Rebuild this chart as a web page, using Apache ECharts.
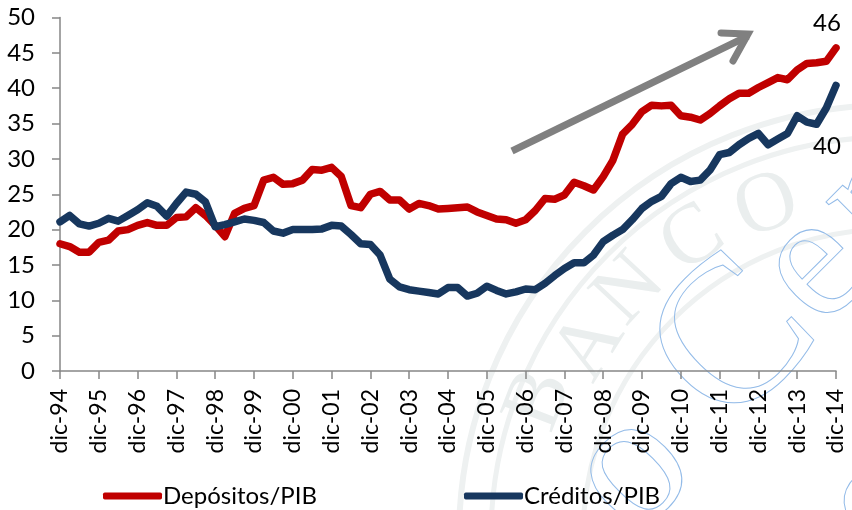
<!DOCTYPE html>
<html><head><meta charset="utf-8">
<style>html,body{margin:0;padding:0;background:#fff}#c{width:852px;height:510px}</style>
<script src="https://cdn.jsdelivr.net/npm/echarts@6/dist/echarts.min.js"></script>
</head><body><div id="c"></div>
<script>
const years = ['94','95','96','97','98','99','00','01','02','03','04','05','06','07','08','09','10','11','12','13','14'];
const depositos = [18.0,17.6,16.8,16.8,18.2,18.5,19.8,20.0,20.6,21.0,20.6,20.6,21.7,21.8,23.1,22.0,20.6,19.0,22.3,23.0,23.4,27.0,27.4,26.4,26.5,27.0,28.5,28.4,28.8,27.5,23.4,23.1,25.0,25.4,24.2,24.2,22.9,23.7,23.4,22.9,23.0,23.1,23.2,22.5,22.0,21.5,21.4,20.9,21.4,22.7,24.4,24.3,24.9,26.7,26.2,25.6,27.5,29.8,33.5,34.9,36.7,37.6,37.5,37.6,36.1,35.9,35.5,36.4,37.5,38.5,39.3,39.3,40.1,40.8,41.5,41.2,42.6,43.5,43.6,43.8,45.7];
const creditos = [21.1,22.0,20.8,20.5,20.9,21.6,21.2,22.0,22.8,23.8,23.3,21.9,23.7,25.3,25.0,23.9,20.4,20.7,21.1,21.5,21.3,21.0,19.8,19.5,20.0,20.0,20.0,20.1,20.6,20.5,19.3,18.0,17.9,16.4,13.0,11.9,11.5,11.3,11.1,10.9,11.8,11.8,10.6,11.0,12.0,11.4,10.9,11.2,11.6,11.5,12.4,13.5,14.5,15.3,15.3,16.4,18.3,19.2,20.0,21.4,23.0,24.0,24.7,26.5,27.4,26.8,27.0,28.4,30.6,30.9,32.0,32.9,33.6,32.0,32.8,33.6,36.1,35.2,34.9,37.2,40.4];
const categories = depositos.map((_, i) => i % 4 === 0 ? 'dic-' + years[i / 4] : '');
const yTicks = [0, 50, 5];
const FONT = 'Lato';
const sealCx = 891, sealCy = 537;
const band = (r, w) => ({type:'circle', silent:true, z:-10, shape:{cx:sealCx, cy:sealCy, r:r}, style:{fill:'none', stroke:'#eef1f1', lineWidth:w}});
const seal = (t, x, y, deg, size) => ({type:'text', silent:true, z:-9, x:x, y:y, rotation:deg*Math.PI/180,
  style:{text:t, font:size+'px "Liberation Serif"', fill:'#eaeeee', align:'center', verticalAlign:'middle'}});
const outline = (t, x, y, deg, size) => ({type:'text', silent:true, z:-8, x:x, y:y, rotation:deg*Math.PI/180,
  style:{text:t, font:size+'px "Liberation Serif"', fill:'rgba(255,255,255,0)', stroke:'#93bbe8', lineWidth:1, align:'center', verticalAlign:'middle'}});
const chart = echarts.init(document.getElementById('c'), null, {renderer:'canvas'});
chart.setOption({
  animation:false, backgroundColor:'#fff',
  grid:{left:60, right:16, top:17.5, bottom:139, containLabel:false},
  xAxis:{type:'category', data:categories, boundaryGap:false,
    axisLine:{lineStyle:{color:'#868686', width:1.5}},
    axisTick:{show:true, interval:3, length:8, lineStyle:{color:'#868686', width:1.5}},
    axisLabel:{interval:3, rotate:90, color:'#000', fontFamily:FONT, fontSize:23, margin:18}},
  yAxis:{type:'value', min:yTicks[0], max:yTicks[1], interval:yTicks[2], splitLine:{show:false},
    axisLine:{show:true, lineStyle:{color:'#868686', width:1.5}},
    axisTick:{show:true, length:8, lineStyle:{color:'#868686', width:1.5}},
    axisLabel:{color:'#000', fontFamily:FONT, fontSize:24, margin:25}},
  legend:{left:103, top:484, padding:0, itemWidth:59, itemHeight:7, itemGap:147, icon:'roundRect',
    textStyle:{color:'#000', fontFamily:FONT, fontSize:24, padding:[0,0,0,-4]},
    data:['Depósitos/PIB','Créditos/PIB']},
  series:[
    {name:'Depósitos/PIB', type:'line', data:depositos, symbol:'none', showSymbol:false, smooth:false,
      lineStyle:{color:'#C00000', width:7.5, cap:'round', join:'round'}, itemStyle:{color:'#C00000'},
      endLabel:{show:true, formatter:p=>Math.round(p.value), color:'#000', fontFamily:FONT, fontSize:24, offset:[-31,-25]}, clip:false},
    {name:'Créditos/PIB', type:'line', data:creditos, symbol:'none', showSymbol:false, smooth:false,
      lineStyle:{color:'#17375E', width:7.5, cap:'round', join:'round'}, itemStyle:{color:'#17375E'},
      endLabel:{show:true, formatter:p=>Math.round(p.value), color:'#000', fontFamily:FONT, fontSize:24, offset:[-31,61]}, clip:false}
  ],
  graphic:[
    band(432,6), band(400,5), band(308,5),
    seal('B',540,400,69,85), seal('A',590,347,58,85), seal('N',630,290,47,85), seal('C',693,240,34,85), seal('O',767,207,20,85),
    outline('C',737,345,45,210), outline('e',815,268,45,180), outline('n',880,198,45,180),
    outline('o',632,471,45,190), outline('e',880,505,45,180),
    {type:'line', silent:true, z:5, shape:{x1:512,y1:151,x2:748,y2:36}, style:{stroke:'#808080', lineWidth:7}},
    {type:'polyline', silent:true, z:5, shape:{points:[[721,33],[748,34],[733,61]]}, style:{fill:'none', stroke:'#808080', lineWidth:7, lineCap:'round', lineJoin:'miter'}}
  ]
});
</script></body></html>
